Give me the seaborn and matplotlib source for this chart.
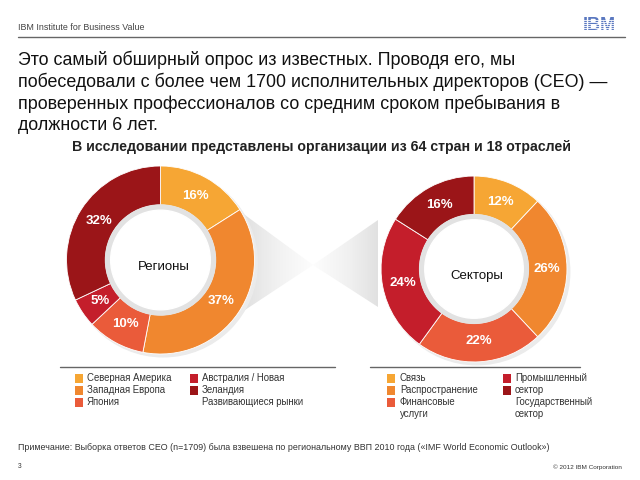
import numpy as np
import seaborn as sns
import matplotlib.pyplot as plt
from matplotlib.patches import Polygon, Circle, Rectangle

# данные
regions = ["Северная Америка", "Западная Европа", "Япония",
           "Австралия / Новая\nЗеландия", "Развивающиеся рынки"]
region_share = [16, 37, 10, 5, 32]

sectors = ["Связь", "Распространение", "Финансовые\nуслуги",
           "Промышленный\nсектор", "Государственный\nсектор"]
sector_share = [12, 26, 22, 24, 16]

palette = sns.color_palette(["#F6A634", "#F0872F", "#EA5B3A", "#C41E2B", "#9B1518"])

sns.set_theme(style="white")
plt.rcParams['font.family'] = ['Liberation Sans', 'DejaVu Sans']

W, H = 640, 480
fig = plt.figure(figsize=(6.4, 4.8), dpi=100)

# фоновая ось в пикселях
bg = fig.add_axes([0, 0, 1, 1])
bg.set_xlim(0, W)
bg.set_ylim(H, 0)
bg.axis('off')

# шапка
bg.text(18, 27, "IBM Institute for Business Value", fontsize=6.4, color="#444444", va='center')
bg.plot([18, 625], [37, 37], color="#666666", lw=1)
bg.text(599, 26, "IBM", fontsize=13, fontweight='bold', color="#5A78C0", ha='center', va='center')
for yy in np.arange(20, 33, 2.0):
    bg.plot([582, 616], [yy, yy], color="white", lw=0.6, zorder=5)

title_lines = [
    "Это самый обширный опрос из известных. Проводя его, мы",
    "побеседовали с более чем 1700 исполнительных директоров (CEO) —",
    "проверенных профессионалов со средним сроком пребывания в",
    "должности 6 лет.",
]
for i, line in enumerate(title_lines):
    bg.text(18, 60 + 21.8 * i, line, fontsize=12.9, color="#111111", va='center')

bg.text(322, 147, "В исследовании представлены организации из 64 стран и 18 отраслей",
        fontsize=10.2, fontweight='bold', color="#222222", ha='center', va='center')

# серый "бантик" между диаграммами
tri_left = [(245, 215), (245, 310), (313, 265)]
tri_right = [(378, 220), (378, 307), (313, 265)]
grad = np.linspace(0, 1, 100).reshape(1, -1)
for tri, g in [(tri_left, grad), (tri_right, grad[:, ::-1])]:
    xs = [p[0] for p in tri]
    ys = [p[1] for p in tri]
    poly = Polygon(tri, closed=True, facecolor='none', edgecolor='none')
    bg.add_patch(poly)
    im = bg.imshow(g, cmap='Greys_r', vmin=-4.2, vmax=1.1, aspect='auto',
                   extent=[min(xs), max(xs), max(ys), min(ys)], zorder=1)
    im.set_clip_path(poly)
bg.set_xlim(0, W)
bg.set_ylim(H, 0)


def donut(cx, cy, r, values, center_label):
    ax = fig.add_axes([(cx - r) / W, 1 - (cy + r) / H, 2 * r / W, 2 * r / H])
    ax.patch.set_visible(False)
    ax.add_patch(Circle((0.03, -0.03), 1.0, color="#EBEBEB", zorder=0))
    ax.pie(values, colors=palette, startangle=90, counterclock=False,
           radius=1, autopct=lambda p: f"{p:.0f}%", pctdistance=0.78,
           wedgeprops=dict(width=0.415, edgecolor='white', linewidth=0.6),
           textprops=dict(color='white', fontsize=9.5, fontweight='bold'))
    ax.add_patch(Circle((0, 0), 0.585, color="#E2E2E2", zorder=3))
    ax.add_patch(Circle((0, 0), 0.53, color="white", zorder=4))
    ax.text(0.03, -0.07, center_label, ha='center', va='center', fontsize=9.5,
            color="#111111", zorder=5)
    ax.set_xlim(-1.05, 1.05)
    ax.set_ylim(-1.05, 1.05)
    ax.set_aspect('equal')
    ax.axis('off')
    return ax


donut(160.5, 260, 98.7, region_share, "Регионы")
donut(474, 269, 97.6, sector_share, "Секторы")

# легенды
bg.plot([60, 335], [367, 367], color="#666666", lw=1)
bg.plot([370, 580], [367, 367], color="#666666", lw=1)


def legend_column(labels, colors, sq_x, txt_x, y0=378, step=12):
    for i, c in enumerate(colors):
        bg.add_patch(Rectangle((sq_x, y0 + step * i - 4.5), 8, 9, facecolor=c,
                               edgecolor='none', zorder=2))
    lines = "\n".join(labels).split("\n")
    for k, line in enumerate(lines):
        bg.text(txt_x, y0 + step * k, line, fontsize=6.9, color="#333333", va='center')


legend_column(regions[:3], palette[:3], 75, 87)
legend_column(regions[3:], palette[3:], 190, 202)
legend_column(sectors[:3], palette[:3], 387, 400)
legend_column(sectors[3:], palette[3:], 503, 515)

# сноска
bg.text(18, 447, "Примечание: Выборка ответов CEO (n=1709) была взвешена по региональному ВВП 2010 года («IMF World Economic Outlook»)",
        fontsize=6.4, color="#333333", va='center')
bg.text(18, 467, "3", fontsize=4.8, color="#333333", va='center')
bg.text(622, 467, "© 2012 IBM Corporation", fontsize=4.6, color="#333333", va='center', ha='right')

plt.savefig("out.png", dpi=100)
